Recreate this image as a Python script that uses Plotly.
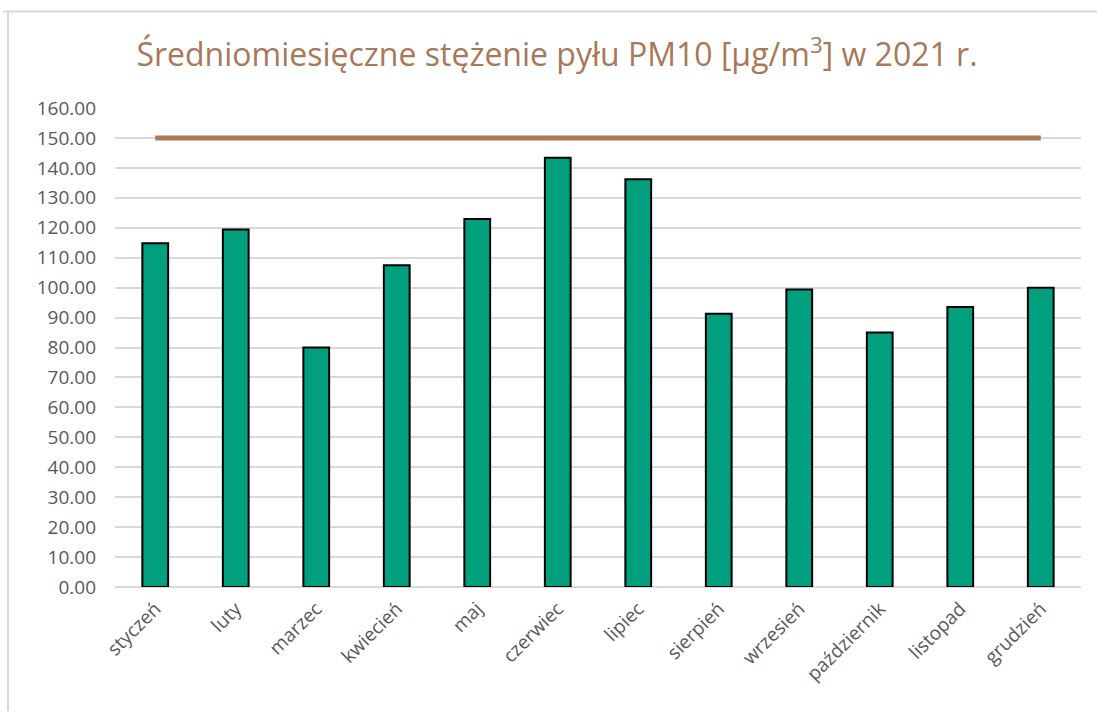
import plotly.graph_objects as go

# Monthly mean PM10 concentration, 2021
months = ["styczeń", "luty", "marzec", "kwiecień", "maj", "czerwiec",
          "lipiec", "sierpień", "wrzesień", "październik", "listopad", "grudzień"]
pm10 = [114.8, 119.4, 80.0, 107.5, 122.9, 143.4, 136.2, 91.3, 99.4, 85.0, 93.5, 100.0]
limit_value = 150.0
limit = [limit_value] * len(months)

y_ticks = [i * 10 for i in range(17)]
y_tick_labels = [f"{v:.2f}" for v in y_ticks]

BROWN = "#A87859"
GREEN = "#00A07E"
GRID = "#D9D9D9"
TEXT = "#595959"

W, H = 1097, 713
ML, MR, MT, MB = 115, 16, 108, 126
pw, ph = W - ML - MR, H - MT - MB

fig = go.Figure()
fig.add_trace(go.Bar(
    x=months, y=pm10,
    marker=dict(color=GREEN, line=dict(color="#000000", width=2)),
    showlegend=False, hoverinfo="x+y",
))
fig.add_trace(go.Scatter(
    x=months, y=limit, mode="lines",
    line=dict(color=BROWN, width=5),
    showlegend=False,
))

# light frame around the chart area (top and left edges)
fx = (8 - ML) / pw
fy = 1 + (MT - 11.5) / ph
fbottom = -(H - 2 - MT - ph) / ph
fig.add_shape(type="line", xref="paper", yref="paper",
              x0=(3 - ML) / pw, x1=(W + 5 - ML) / pw, y0=fy, y1=fy,
              line=dict(color=GRID, width=2))
fig.add_shape(type="line", xref="paper", yref="paper",
              x0=fx, x1=fx, y0=fy, y1=fbottom,
              line=dict(color=GRID, width=2))

fig.update_layout(
    width=W, height=H, autosize=False,
    margin=dict(l=ML, r=MR, t=MT, b=MB),
    paper_bgcolor="white", plot_bgcolor="white",
    font=dict(family="Open Sans", color=TEXT, size=19),
    bargap=0.68,
    title=dict(
        text="Średniomiesięczne stężenie pyłu PM10 [µg/m<sup>3</sup>] w 2021 r.",
        x=(557 - ML) / pw, xref="paper", xanchor="center",
        y=1 - 55 / H, yanchor="middle",
        font=dict(family="Open Sans", size=32, color=BROWN),
    ),
    xaxis=dict(
        tickangle=-45, showgrid=False, showline=False, ticks="",
        tickfont=dict(size=19, color=TEXT),
        ticklabelstandoff=6,
    ),
    yaxis=dict(
        range=[0, 160], tickvals=y_ticks, ticktext=y_tick_labels,
        showgrid=True, gridcolor=GRID, gridwidth=2,
        zeroline=True, zerolinecolor=GRID, zerolinewidth=2,
        showline=False, ticks="", ticklen=0,
        tickfont=dict(size=19, color=TEXT),
        ticklabelstandoff=18,
    ),
)

fig.write_html("out.html")
